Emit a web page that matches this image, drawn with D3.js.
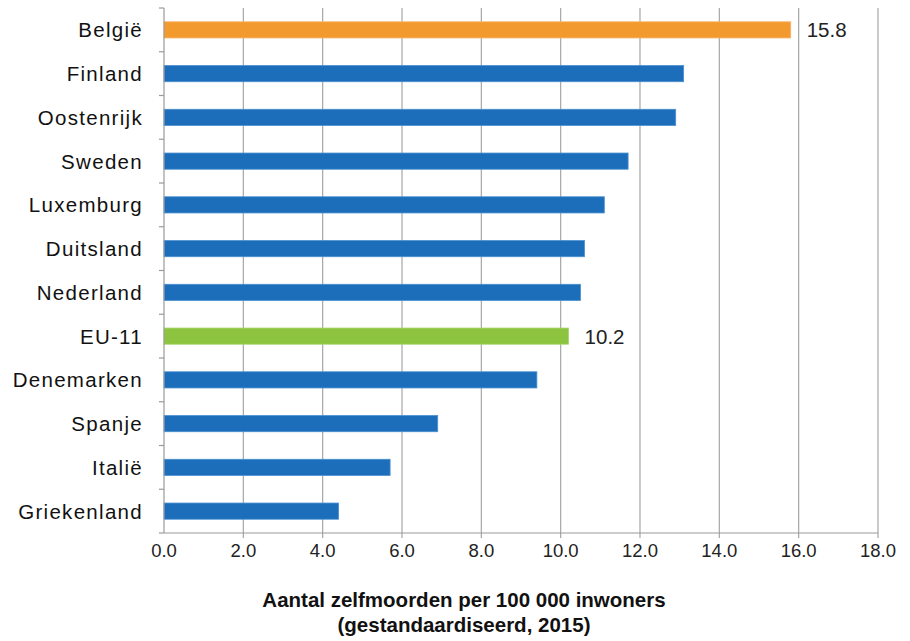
<!DOCTYPE html>
<html>
<head>
<meta charset="utf-8">
<script src="https://cdn.jsdelivr.net/npm/d3@7"></script>
<style>
  body { margin: 0; background: #fff; }
  svg { display: block; }
  .narrow { font-family: "Liberation Sans Narrow", "Arial Narrow", "Liberation Sans", Arial, sans-serif; }
</style>
</head>
<body>
<div id="graph"></div>
<script>
// data
var countries = ["België", "Finland", "Oostenrijk", "Sweden", "Luxemburg", "Duitsland",
                 "Nederland", "EU-11", "Denemarken", "Spanje", "Italië", "Griekenland"];
var values = [15.8, 13.1, 12.9, 11.7, 11.1, 10.6, 10.5, 10.2, 9.4, 6.9, 5.7, 4.4];
var highlight = { "België": "orange", "EU-11": "green" };
var xTicks = [0, 2, 4, 6, 8, 10, 12, 14, 16, 18];
var titleLines = ["Aantal zelfmoorden per 100 000 inwoners", "(gestandaardiseerd, 2015)"];

var colors = { orange: "#F39A2E", green: "#8CC43F", normal: "#1C6EBB" };
var strokes = { orange: "#F7B56A", green: "#A9D56F", normal: "#4A8FD0" };

var W = 910, H = 641;
var mLeft = 164, mRight = 878, mTop = 8, mBottom = 533;

var svg = d3.select("#graph").append("svg").attr("width", W).attr("height", H);

var x = d3.scaleLinear().domain([0, 18]).range([mLeft, mRight]);
var y = d3.scaleBand().domain(countries).range([mTop, mBottom]).paddingInner(0.63).paddingOuter(0.315);
var yb = d3.scaleBand().domain(countries).range([mTop, mBottom]);

// gridlines
svg.append("g")
  .selectAll("line")
  .data(xTicks.slice(1))
  .enter()
  .append("line")
  .attr("x1", function(d) { return x(d); })
  .attr("x2", function(d) { return x(d); })
  .attr("y1", mTop)
  .attr("y2", mBottom + 5)
  .attr("stroke", "#a6a6a6")
  .attr("stroke-width", 1.2);

// bars
svg.append("g")
  .selectAll("rect")
  .data(countries)
  .enter()
  .append("rect")
  .attr("x", x(0))
  .attr("y", function(d) { return y(d); })
  .attr("width", function(d, i) { return x(values[i]) - x(0); })
  .attr("height", y.bandwidth())
  .attr("fill", function(d) { return colors[highlight[d] || "normal"]; })
  .attr("stroke", function(d) { return strokes[highlight[d] || "normal"]; })
  .attr("stroke-width", 0.8);

// value labels on highlighted bars
svg.append("g")
  .selectAll("text")
  .data(countries.filter(function(d) { return highlight[d]; }))
  .enter()
  .append("text")
  .attr("x", function(d) { return x(values[countries.indexOf(d)]) + 16; })
  .attr("y", function(d) { return y(d) + y.bandwidth() / 2; })
  .attr("dy", "0.36em")
  .attr("font-family", "Liberation Sans, Arial, sans-serif")
  .attr("font-size", 20.5)
  .attr("fill", "#222")
  .text(function(d) { return values[countries.indexOf(d)].toFixed(1); });

// y axis
var yAxis = svg.append("g").attr("transform", "translate(" + mLeft + ",0)");
yAxis.append("line")
  .attr("x1", 0).attr("x2", 0).attr("y1", mTop).attr("y2", mBottom)
  .attr("stroke", "#9a9a9a").attr("stroke-width", 1.2);
yAxis.selectAll("line.tick")
  .data(d3.range(countries.length + 1))
  .enter()
  .append("line")
  .attr("class", "tick")
  .attr("x1", -5).attr("x2", 0)
  .attr("y1", function(i) { return mTop + i * yb.step(); })
  .attr("y2", function(i) { return mTop + i * yb.step(); })
  .attr("stroke", "#9a9a9a").attr("stroke-width", 1.2);
yAxis.selectAll("text")
  .data(countries)
  .enter()
  .append("text")
  .attr("x", -21)
  .attr("y", function(d) { return y(d) + y.bandwidth() / 2; })
  .attr("dy", "0.36em")
  .attr("text-anchor", "end")
  .attr("font-family", "Liberation Sans, Arial, sans-serif")
  .attr("font-size", 20.5)
  .attr("letter-spacing", 1.3)
  .attr("fill", "#111")
  .text(function(d) { return d; });

// x axis
var xAxis = svg.append("g").attr("transform", "translate(0," + mBottom + ")");
xAxis.append("line")
  .attr("x1", mLeft).attr("x2", mRight).attr("y1", 0).attr("y2", 0)
  .attr("stroke", "#9a9a9a").attr("stroke-width", 1.2);
xAxis.selectAll("text")
  .data(xTicks)
  .enter()
  .append("text")
  .attr("class", "narrow")
  .attr("x", function(d) { return x(d); })
  .attr("y", 24)
  .attr("text-anchor", "middle")
  .attr("font-size", 18.5)
  .attr("fill", "#222")
  .text(function(d) { return d.toFixed(1); });

// axis title
svg.append("g")
  .selectAll("text")
  .data(titleLines)
  .enter()
  .append("text")
  .attr("class", "narrow")
  .attr("x", 464)
  .attr("y", function(d, i) { return 607 + i * 25; })
  .attr("text-anchor", "middle")
  .attr("font-size", 20.5)
  .attr("font-weight", "bold")
  .attr("fill", "#111")
  .text(function(d) { return d; });
</script>
</body>
</html>
